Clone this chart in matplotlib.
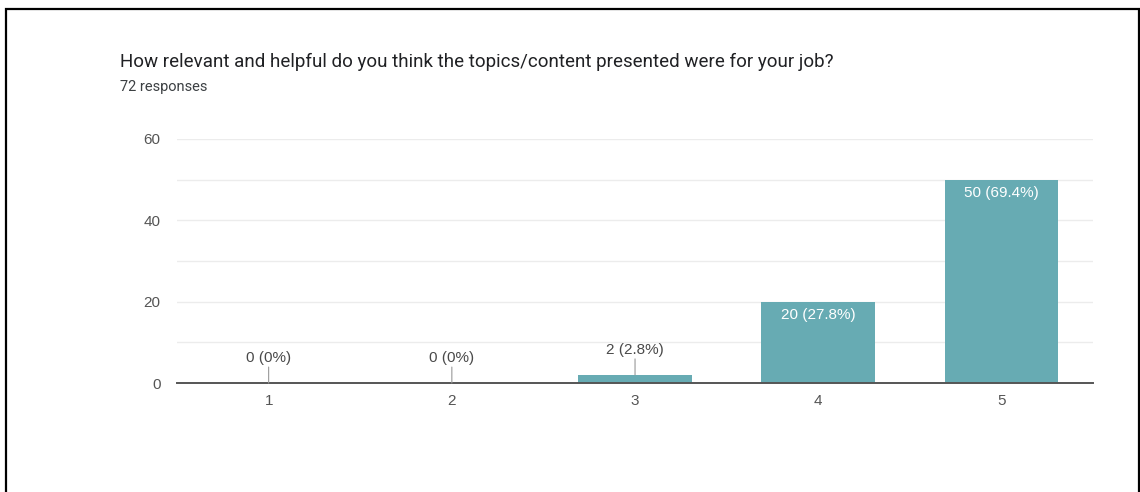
import numpy as np
import matplotlib.pyplot as plt
from matplotlib.patches import Rectangle

# données du sondage
categories = ["1", "2", "3", "4", "5"]
counts = [0, 0, 2, 20, 50]
total = 72
title = "How relevant and helpful do you think the topics/content presented were for your job?"
subtitle = "72 responses"

bar_color = "#67abb3"

fig = plt.figure(figsize=(11.4, 4.92), dpi=100)
ax = fig.add_axes([0.1553, 0.2215, 0.8035, 0.4960])

x = np.arange(1, len(categories) + 1)
ax.bar(x, counts, width=0.62, color=bar_color, zorder=3)

ax.set_xlim(0.5, len(categories) + 0.5)
ax.set_ylim(0, 60)
ax.set_yticks([0, 20, 40, 60])
ax.set_yticks([10, 30, 50], minor=True)
ax.set_xticks(x)
ax.set_xticklabels(categories)
ax.grid(axis="y", which="both", color="#ececec", linewidth=1, zorder=0)
ax.tick_params(axis="both", which="both", length=0, labelsize=11, colors="#555555",
               labelfontfamily="Liberation Sans")
ax.tick_params(axis="x", pad=8)
ax.tick_params(axis="y", pad=12)
for s in ["top", "right", "left"]:
    ax.spines[s].set_visible(False)
ax.spines["bottom"].set_color("#555555")
ax.spines["bottom"].set_linewidth(1.4)
ax.spines["bottom"].set_zorder(4)

# étiquettes des barres
for xi, c in zip(x, counts):
    pct = c / total * 100
    pct_txt = f"{pct:.1f}".rstrip("0").rstrip(".")
    lab = f"{c} ({pct_txt}%)"
    if c < 10:
        ax.annotate("", xy=(xi, c), xytext=(0, 11.5), textcoords="offset points",
                    arrowprops=dict(arrowstyle="-", color="#999999", lw=0.8,
                                    shrinkA=0, shrinkB=0), zorder=5)
        ax.annotate(lab, xy=(xi, c), xytext=(0, 18), textcoords="offset points",
                    ha="center", va="center", fontsize=11, color="#4a4a4a",
                    family="Liberation Sans")
    else:
        ax.annotate(lab, xy=(xi, c), xytext=(0, -9.5), textcoords="offset points",
                    ha="center", va="center", fontsize=11, color="white",
                    family="Liberation Sans")

fig.text(0.105, 0.874, title, fontsize=13.5, color="#202124", family="Roboto", va="center")
fig.text(0.105, 0.823, subtitle, fontsize=10.5, color="#3c4043", family="Roboto", va="center")

# cadre noir autour de l'image
fig.patches.append(Rectangle((5.5 / 1140, -0.05), 1133.5 / 1140, 1.05 - 8.5 / 492,
                             transform=fig.transFigure, fill=False,
                             edgecolor="black", linewidth=1.6))

fig.savefig("out.png", dpi=100)
